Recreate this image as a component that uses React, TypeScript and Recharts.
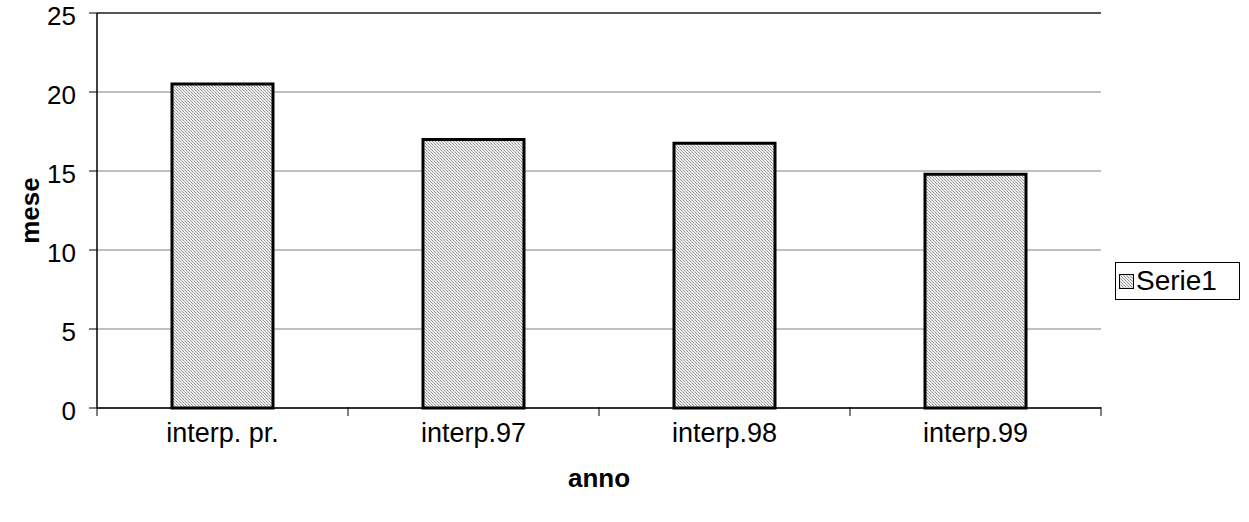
import React from 'react';
import {
  BarChart,
  Bar,
  XAxis,
  YAxis,
  CartesianGrid,
  ReferenceLine,
  Legend,
} from 'recharts';

// --- Data ---

const categories = ['interp. pr.', 'interp.97', 'interp.98', 'interp.99'];
const serie1 = [20.5, 17, 16.75, 14.8];
const yTicks = [0, 5, 10, 15, 20, 25];

const data = categories.map((name, i) => ({ name, serie1: serie1[i] }));

// --- Constants ---

const FONT = '"Liberation Sans", Arial, sans-serif';
const PATTERN_ID = 'serie1-dots';
const LEGEND_WIDTH = 125;

// Value labels sit a little below their gridline
const YTick = ({ x, y, payload }: any) => (
  <text
    x={x}
    y={y + 12}
    textAnchor="end"
    style={{ fontFamily: FONT, fontSize: 26, fill: '#000' }}
  >
    {payload.value}
  </text>
);

// Category label plus tick marks on the band edges (Excel style)
const XTick = ({ x, y, payload, index, visibleTicksCount }: any) => {
  const half = payload.offset || 125.5;
  const axisY = y - 8;
  return (
    <g>
      <line x1={x - half} x2={x - half} y1={axisY - 1} y2={axisY + 8} stroke="#000" strokeWidth={1} />
      {index === visibleTicksCount - 1 && (
        <line x1={x + half} x2={x + half} y1={axisY - 1} y2={axisY + 8} stroke="#000" strokeWidth={1} />
      )}
      <text
        x={x}
        y={y + 26}
        textAnchor="middle"
        style={{ fontFamily: FONT, fontSize: 27, fill: '#000' }}
      >
        {payload.value}
      </text>
    </g>
  );
};

// Legend box with a patterned swatch
const LegendBox = () => (
  <div
    style={{
      boxSizing: 'border-box',
      width: LEGEND_WIDTH,
      height: 38,
      border: '1px solid #000',
      background: '#fff',
      display: 'flex',
      alignItems: 'center',
      paddingLeft: 3,
      fontFamily: FONT,
      fontSize: 28,
      color: '#000',
      lineHeight: '28px',
    }}
  >
    <svg width={15} height={15} style={{ marginRight: 2 }}>
      <rect x={0.5} y={0.5} width={14} height={14} fill={`url(#${PATTERN_ID})`} stroke="#000" strokeWidth={1} />
    </svg>
    <span>Serie1</span>
  </div>
);

const App: React.FC = () => {
  return (
    <div style={{ position: 'absolute', left: 0, top: 0, background: '#fff' }}>
      <BarChart
        width={1249}
        height={522}
        data={data}
        margin={{ top: 13, right: 148 - LEGEND_WIDTH, bottom: 54, left: 0 }}
        barSize={101}
      >
        <defs>
          <pattern id={PATTERN_ID} width={3} height={3} patternUnits="userSpaceOnUse">
            <rect width={3} height={3} fill="#ececec" />
            <rect x={0} y={0} width={1} height={1} fill="#959595" />
            <rect x={1} y={1} width={1} height={1} fill="#b4b4b4" />
            <rect x={2} y={2} width={1} height={1} fill="#959595" />
          </pattern>
        </defs>

        <CartesianGrid vertical={false} stroke="#808080" strokeWidth={1} />

        <XAxis
          dataKey="name"
          tick={<XTick />}
          tickLine={false}
          tickSize={8}
          tickMargin={0}
          axisLine={{ stroke: '#000', strokeWidth: 1.5 }}
          height={60}
          interval={0}
          label={{
            content: ({ viewBox }: any) => (
              <text
                x={viewBox.x + viewBox.width / 2}
                y={487}
                textAnchor="middle"
                style={{ fontFamily: FONT, fontSize: 26, fontWeight: 'bold' }}
              >
                anno
              </text>
            ),
          }}
        />
        <YAxis
          domain={[0, 25]}
          ticks={yTicks}
          interval={0}
          width={97}
          tick={<YTick />}
          tickSize={8}
          tickMargin={13}
          tickLine={{ stroke: '#000', strokeWidth: 1 }}
          axisLine={{ stroke: '#000', strokeWidth: 1.5 }}
          label={{
            content: ({ viewBox }: any) => {
              const cy = viewBox.y + viewBox.height / 2;
              return (
                <text
                  x={39}
                  y={cy}
                  textAnchor="middle"
                  transform={`rotate(-90, 39, ${cy})`}
                  style={{ fontFamily: FONT, fontSize: 26, fontWeight: 'bold' }}
                >
                  mese
                </text>
              );
            },
          }}
        />
        {/* right frame edge */}
        <YAxis
          yAxisId="frame"
          orientation="right"
          domain={[0, 25]}
          width={0}
          tick={false}
          tickLine={false}
          axisLine={{ stroke: '#333', strokeWidth: 1.5 }}
        />
        <ReferenceLine y={25} stroke="#333" strokeWidth={1.5} />

        <Bar
          dataKey="serie1"
          name="Serie1"
          fill={`url(#${PATTERN_ID})`}
          stroke="#000"
          strokeWidth={3}
          isAnimationActive={false}
        />

        <Legend
          layout="horizontal"
          verticalAlign="middle"
          align="right"
          content={<LegendBox />}
          wrapperStyle={{ left: 1115, top: 262, width: 'auto', right: 'auto', bottom: 'auto' }}
        />
      </BarChart>
    </div>
  );
};

export default App;
